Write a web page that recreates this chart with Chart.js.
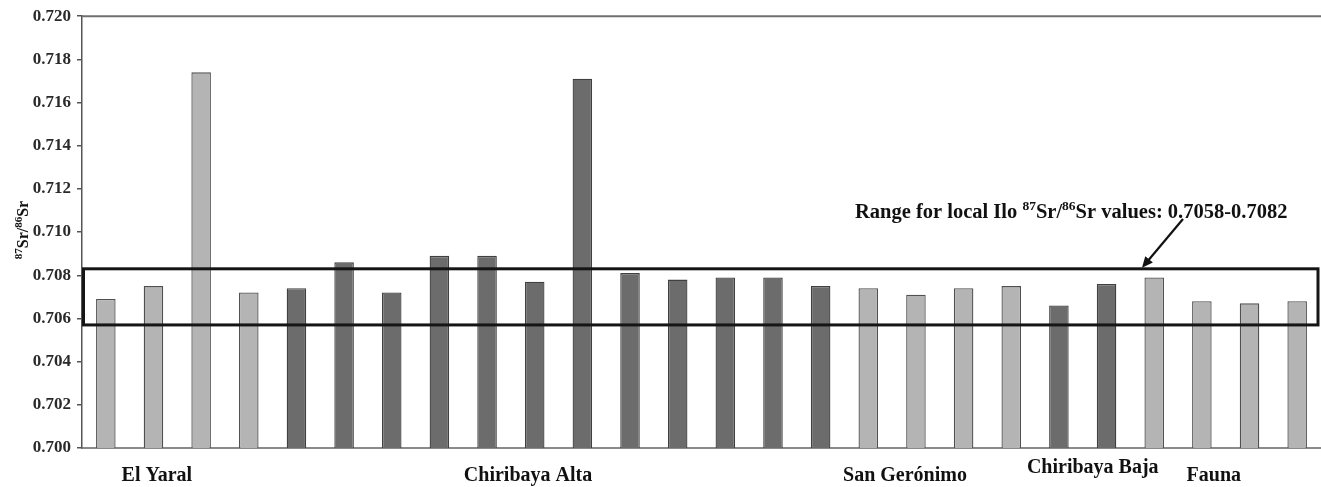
<!DOCTYPE html>
<html><head><meta charset="utf-8">
<script src="https://cdn.jsdelivr.net/npm/chart.js@4/dist/chart.umd.min.js"></script>
<style>html,body{margin:0;padding:0;background:#fff}#wrap{width:1321px;height:487px;position:relative}</style>
</head><body><div id="wrap"><canvas id="c"></canvas></div>
<script>
// ---- data ----
const categories = ['1','2','3','4','5','6','7','8','9','10','11','12','13','14','15','16','17','18','19','20','21','22','23','24','25','26'];
const values = [0.7069,0.7075,0.7174,0.7072,0.7074,0.7086,0.7072,0.7089,0.7089,0.7077,0.7171,0.7081,0.7078,0.7079,0.7079,0.7075,0.7074,0.7071,0.7074,0.7075,0.7066,0.7076,0.7079,0.7068,0.7067,0.7068];
const shades = ['light','light','light','light','dark','dark','dark','dark','dark','dark','dark','dark','dark','dark','dark','dark','light','light','light','light','dark','dark','light','light','light','light'];
const groupNames = ['El Yaral','Chiribaya Alta','San Gerónimo','Chiribaya Baja','Fauna'];
const groupCenters = [1.07, 8.86, 16.77, 20.71, 23.25];
const yTicks = [0.700,0.702,0.704,0.706,0.708,0.710,0.712,0.714,0.716,0.718,0.720];
const localRange = [0.7057, 0.7083];

// ---- styles ----
const FILL = {light:'#b4b4b4', dark:'#6c6c6c'};
const SERIF = '"Liberation Serif", "DejaVu Serif", serif';
const labelLift = {'Chiribaya Baja': 8};

function drawRich(ctx, parts, x, y, size, supSize, raise) {
  let cx = x;
  for (const p of parts) {
    ctx.font = 'bold ' + (p.sup ? supSize : size) + 'px ' + SERIF;
    ctx.fillText(p.t, cx, p.sup ? y - raise : y);
    cx += ctx.measureText(p.t).width;
  }
  return cx - x;
}
function richWidth(ctx, parts, size, supSize) {
  let w = 0;
  for (const p of parts) {
    ctx.font = 'bold ' + (p.sup ? supSize : size) + 'px ' + SERIF;
    w += ctx.measureText(p.t).width;
  }
  return w;
}

const overlay = {
  id: 'overlay',
  afterDatasetsDraw(chart) {
    const ctx = chart.ctx, a = chart.chartArea;
    const ys = chart.scales.y, xs = chart.scales.x;
    ctx.save();
    // top frame line
    ctx.strokeStyle = '#707070'; ctx.lineWidth = 2;
    ctx.beginPath(); ctx.moveTo(a.left, a.top); ctx.lineTo(a.right, a.top); ctx.stroke();
    // local range box
    const yT = ys.getPixelForValue(localRange[1]);
    const yB = ys.getPixelForValue(localRange[0]);
    ctx.strokeStyle = '#151515'; ctx.lineWidth = 3;
    ctx.strokeRect(a.left + 1.5, yT, (a.right - 3) - (a.left + 1.5), yB - yT);
    // arrow
    const x0 = 1183, y0 = 219, x1 = 1142, y1 = yT - 1;
    ctx.lineWidth = 2.2; ctx.strokeStyle = '#111'; ctx.fillStyle = '#111';
    const ang = Math.atan2(y1 - y0, x1 - x0);
    ctx.beginPath(); ctx.moveTo(x0, y0); ctx.lineTo(x1 - 7*Math.cos(ang), y1 - 7*Math.sin(ang)); ctx.stroke();
    ctx.beginPath();
    ctx.moveTo(x1, y1);
    ctx.lineTo(x1 - 11*Math.cos(ang) + 5*Math.sin(ang), y1 - 11*Math.sin(ang) - 5*Math.cos(ang));
    ctx.lineTo(x1 - 11*Math.cos(ang) - 5*Math.sin(ang), y1 - 11*Math.sin(ang) + 5*Math.cos(ang));
    ctx.closePath(); ctx.fill();
    // annotation text
    ctx.fillStyle = '#111'; ctx.textBaseline = 'alphabetic'; ctx.textAlign = 'left';
    drawRich(ctx, [{t:'Range for local Ilo '},{t:'87',sup:true},{t:'Sr/'},{t:'86',sup:true},{t:'Sr values: 0.7058-0.7082'}], 855, 218, 20.5, 13.5, 8);
    // group labels
    ctx.textAlign = 'center';
    ctx.font = 'bold 20px ' + SERIF;
    groupNames.forEach((g, i) => {
      const x = xs.getPixelForValue(groupCenters[i]);
      ctx.fillText(g, x, a.bottom + 33 - (labelLift[g] || 0));
    });
    // y axis title (rotated)
    const parts = [{t:'87',sup:true},{t:'Sr/'},{t:'86',sup:true},{t:'Sr'}];
    const w = richWidth(ctx, parts, 16, 11);
    ctx.translate(28, 230);
    ctx.rotate(-Math.PI/2);
    ctx.textAlign = 'left';
    drawRich(ctx, parts, -w/2, 0, 16, 11, 6);
    ctx.restore();
  }
};

new Chart(document.getElementById('c'), {
  type: 'bar',
  data: {
    labels: categories,
    datasets: [{
      data: values,
      backgroundColor: shades.map(s => FILL[s]),
      borderColor: shades.map(s => s === 'light' ? '#505050' : '#404040'),
      borderWidth: 1.3,
      barPercentage: 0.41,
      categoryPercentage: 1.0
    }]
  },
  options: {
    responsive: true,
    maintainAspectRatio: false,
    animation: false,
    layout: {padding: {top: 11, left: 0, right: 0, bottom: 0}},
    plugins: {legend: {display: false}, tooltip: {enabled: false}},
    scales: {
      x: {
        ticks: {display: false},
        grid: {display: false},
        border: {display: true, color: '#8a8a8a', width: 2},
        afterFit(s) { s.height = 39; }
      },
      y: {
        min: 0.700, max: 0.720,
        afterBuildTicks(s) { s.ticks = yTicks.map(v => ({value: v})); },
        ticks: {
          callback: v => Number(v).toFixed(3),
          font: {family: SERIF, size: 17, weight: 'bold'},
          color: '#2a2a2a',
          padding: 6
        },
        grid: {drawOnChartArea: false, drawTicks: true, tickLength: 5, color: '#555', lineWidth: 1.5},
        border: {display: true, color: '#555', width: 1.5},
        afterFit(s) { s.width = 82; }
      }
    }
  },
  plugins: [overlay]
});
</script>
</body></html>
